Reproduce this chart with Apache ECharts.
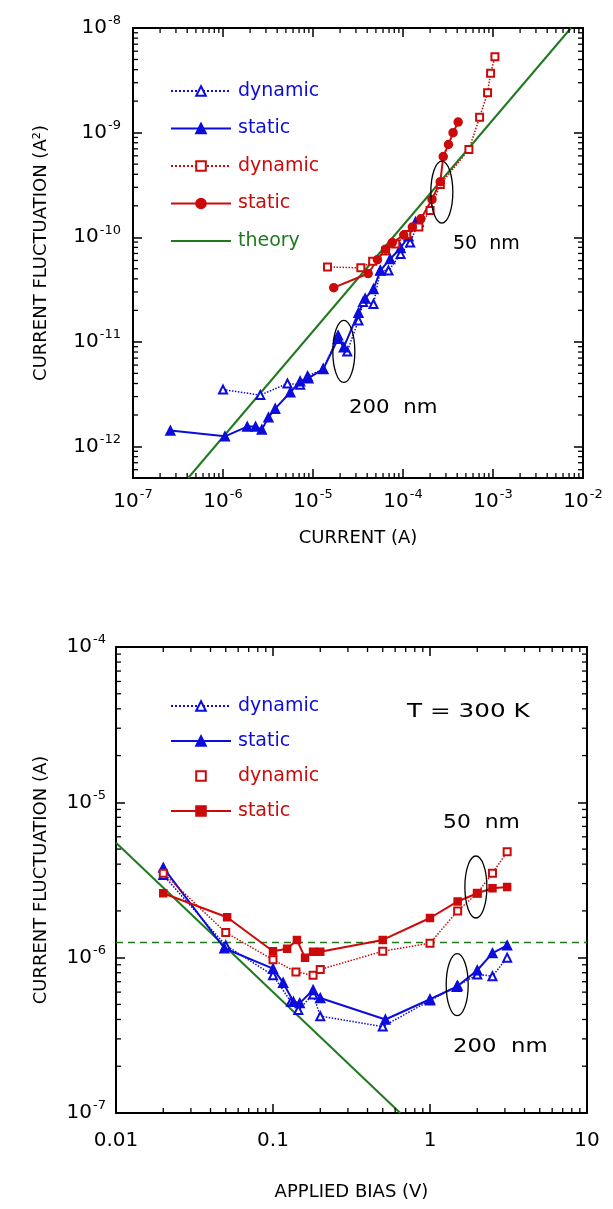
<!DOCTYPE html>
<html><head><meta charset="utf-8">
<script src="https://cdn.jsdelivr.net/npm/echarts@6/dist/echarts.min.js"></script>
<style>html,body{margin:0;padding:0;background:#fff}#c{width:613px;height:1209px}</style>
</head><body><div id="c"></div>
<script>
// ===== Top panel: CURRENT FLUCTUATION (A^2) vs CURRENT (A) =====
const topBlueDynI = [1.0e-6, 2.6e-6, 5.2e-6, 7.2e-6, 8.7e-6, 1.3e-5, 1.9e-5, 2.4e-5, 3.2e-5, 3.6e-5, 4.7e-5, 5.6e-5, 6.9e-5, 9.4e-5, 1.2e-4, 1.5e-4];
const topBlueDynS = [3.5e-12, 3.1e-12, 4.0e-12, 3.9e-12, 4.7e-12, 5.5e-12, 1.15e-11, 8.1e-12, 1.6e-11, 2.4e-11, 2.3e-11, 4.8e-11, 4.8e-11, 6.9e-11, 8.9e-11, 1.4e-10];
const topBlueStaI = [2.6e-7, 1.05e-6, 1.86e-6, 2.3e-6, 2.7e-6, 3.2e-6, 3.8e-6, 5.6e-6, 7.2e-6, 8.9e-6, 1.3e-5, 1.9e-5, 2.2e-5, 3.2e-5, 3.8e-5, 4.7e-5, 5.6e-5, 7.2e-5, 9.4e-5, 1.15e-4, 1.38e-4];
const topBlueStaS = [1.42e-12, 1.25e-12, 1.55e-12, 1.55e-12, 1.45e-12, 1.9e-12, 2.3e-12, 3.3e-12, 4.2e-12, 4.5e-12, 5.5e-12, 1.07e-11, 8.9e-12, 1.9e-11, 2.6e-11, 3.2e-11, 4.8e-11, 6.2e-11, 7.9e-11, 1.02e-10, 1.4e-10];
const topRedDynI = [1.45e-5, 3.4e-5, 4.6e-5, 6.4e-5, 8.3e-5, 1.1e-4, 1.5e-4, 2.0e-4, 2.6e-4, 5.4e-4, 7.1e-4, 8.7e-4, 9.4e-4, 1.05e-3];
const topRedDynS = [5.2e-11, 5.1e-11, 5.9e-11, 7.4e-11, 8.6e-11, 1.06e-10, 1.25e-10, 1.8e-10, 3.2e-10, 6.9e-10, 1.4e-9, 2.4e-9, 3.7e-9, 5.3e-9];
const topRedStaI = [1.7e-5, 4.1e-5, 5.2e-5, 6.4e-5, 7.6e-5, 1.02e-4, 1.27e-4, 1.58e-4, 2.1e-4, 2.6e-4, 2.8e-4, 3.2e-4, 3.6e-4, 4.1e-4];
const topRedStaS = [3.3e-11, 4.5e-11, 6.1e-11, 7.7e-11, 8.9e-11, 1.05e-10, 1.25e-10, 1.5e-10, 2.3e-10, 3.4e-10, 5.9e-10, 7.7e-10, 1.0e-9, 1.26e-9];
const topTheoryI = [4.1e-7, 7.35e-3];
const topTheoryS = [5.0e-13, 1.0e-8];
const topEllipseI = [2.7e-4, 2.2e-5];
const topEllipseS = [2.7e-10, 8.1e-12];
const topXRange = [1e-7, 1e-2];
const topYRange = [5e-13, 1e-8];

// ===== Bottom panel: CURRENT FLUCTUATION (A) vs APPLIED BIAS (V) =====
const botBlueDynV = [0.02, 0.05, 0.1, 0.13, 0.145, 0.18, 0.2, 0.5, 1.0, 1.5, 2.0, 2.5, 3.1];
const botBlueDynF = [3.4e-6, 1.2e-6, 7.7e-7, 5.2e-7, 4.6e-7, 5.8e-7, 4.2e-7, 3.6e-7, 5.3e-7, 6.6e-7, 7.8e-7, 7.6e-7, 1.0e-6];
const botBlueStaV = [0.02, 0.049, 0.1, 0.116, 0.135, 0.148, 0.18, 0.2, 0.52, 1.0, 1.48, 2.0, 2.5, 3.1];
const botBlueStaF = [3.8e-6, 1.15e-6, 8.5e-7, 6.9e-7, 5.2e-7, 5.1e-7, 6.2e-7, 5.5e-7, 4.0e-7, 5.4e-7, 6.5e-7, 8.3e-7, 1.07e-6, 1.2e-6];
const botRedDynV = [0.02, 0.05, 0.1, 0.14, 0.18, 0.2, 0.5, 1.0, 1.5, 2.0, 2.5, 3.1];
const botRedDynF = [3.5e-6, 1.45e-6, 9.7e-7, 8.1e-7, 7.7e-7, 8.4e-7, 1.1e-6, 1.24e-6, 2.0e-6, 2.6e-6, 3.5e-6, 4.8e-6];
const botRedStaV = [0.02, 0.051, 0.1, 0.123, 0.142, 0.16, 0.18, 0.2, 0.5, 1.0, 1.5, 2.0, 2.5, 3.1];
const botRedStaF = [2.6e-6, 1.82e-6, 1.1e-6, 1.14e-6, 1.3e-6, 1.0e-6, 1.09e-6, 1.09e-6, 1.3e-6, 1.8e-6, 2.3e-6, 2.6e-6, 2.8e-6, 2.85e-6];
const botTheoryV = [0.01, 0.646];
const botTheoryF = [5.5e-6, 1.0e-7];
const botLevelV = [0.01, 10];
const botLevelF = [1.25e-6, 1.25e-6];
const botEllipseV = [1.96, 1.49];
const botEllipseF = [2.85e-6, 6.7e-7];
const botXRange = [0.01, 10];
const botYRange = [1e-7, 1e-4];
const botXTickLabels = {'-2': '0.01', '-1': '0.1', '0': '1', '1': '10'};

const legendText = {
  tBD: 'dynamic', tBS: 'static', tRD: 'dynamic', tRS: 'static', tTh: 'theory',
  bBD: 'dynamic', bBS: 'static', bRD: 'dynamic', bRS: 'static'
};

const BLUE = '#0c0cdc', RED = '#cc0a0a', GREEN = '#1f7a1f';
const FONT = 'DejaVu Sans';
const zip = (a, b) => a.map((v, i) => [v, b[i]]);

function powLabel(v) {
  const l = Math.log10(v), e = Math.round(l);
  if (Math.abs(l - e) > 1e-6) return '';
  return '{b|10}{s|' + e + '}';
}
function botXLabel(v) {
  const l = Math.log10(v), e = Math.round(l);
  if (Math.abs(l - e) > 1e-6) return '';
  return botXTickLabels[String(e)] || '';
}
const rich = {
  b: {fontSize: 20, fontFamily: FONT, color: '#000'},
  s: {fontSize: 13, fontFamily: FONT, color: '#000', padding: [0, 0, 14, 1]}
};
function minorVals(lo, hi) {
  const out = [];
  for (let e = Math.floor(Math.log10(lo)); e < Math.ceil(Math.log10(hi)); e++) {
    for (let m = 2; m <= 9; m++) {
      const v = m * Math.pow(10, e);
      if (v > lo * 1.0001 && v < hi * 0.9999) out.push(v);
    }
  }
  return out;
}
const AX_LINE = {show: true, lineStyle: {color: '#000', width: 2}};
const AX_TICK = {show: true, inside: true, length: 9, lineStyle: {color: '#000', width: 1.5}};

function axis(gridIndex, position, range, opts) {
  return Object.assign({
    type: 'log', logBase: 10, gridIndex, position, min: range[0], max: range[1],
    axisLine: AX_LINE, axisTick: AX_TICK, splitLine: {show: false},
    axisLabel: {show: false}
  }, opts || {});
}

const xAxis = [
  axis(0, 'bottom', topXRange, {
    axisLabel: {show: true, margin: 10, formatter: powLabel, rich, showMinLabel: true, showMaxLabel: true},
    name: 'CURRENT (A)', nameLocation: 'middle', nameGap: 51,
    nameTextStyle: {fontFamily: FONT, fontSize: 18, color: '#000'}
  }),
  axis(0, 'top', topXRange),
  axis(1, 'bottom', botXRange, {
    axisLabel: {show: true, margin: 18, formatter: botXLabel, fontFamily: FONT, fontSize: 20, color: '#000', showMinLabel: true, showMaxLabel: true},
    name: 'APPLIED BIAS (V)', nameLocation: 'middle', nameGap: 70,
    nameTextStyle: {fontFamily: FONT, fontSize: 18, color: '#000'}
  }),
  axis(1, 'top', botXRange)
];
const yAxis = [
  axis(0, 'left', topYRange, {
    axisLabel: {show: true, margin: 12, formatter: powLabel, rich, showMinLabel: false, showMaxLabel: true},
    name: 'CURRENT FLUCTUATION (A\u00B2)', nameLocation: 'middle', nameGap: 83,
    nameTextStyle: {fontFamily: FONT, fontSize: 18, color: '#000'}
  }),
  axis(0, 'right', topYRange),
  axis(1, 'left', botYRange, {
    axisLabel: {show: true, margin: 10, formatter: powLabel, rich, showMinLabel: true, showMaxLabel: true},
    name: 'CURRENT FLUCTUATION (A)', nameLocation: 'middle', nameGap: 66,
    nameTextStyle: {fontFamily: FONT, fontSize: 18, color: '#000'}
  }),
  axis(1, 'right', botYRange)
];

function minorTickSeries(xi, yi, dir, xr, yr) {
  const vals = dir === 'x' ? minorVals(xr[0], xr[1]) : minorVals(yr[0], yr[1]);
  return {
    type: 'custom', xAxisIndex: xi, yAxisIndex: yi, silent: true, z: 5,
    data: vals.map(v => dir === 'x' ? [v, yr[0]] : [xr[0], v]),
    renderItem: (params, api) => {
      const v = dir === 'x' ? api.value(0) : api.value(1);
      const L = 5, st = {stroke: '#000', lineWidth: 1.3};
      if (dir === 'x') {
        const b = api.coord([v, yr[0]]), t = api.coord([v, yr[1]]);
        return {type: 'group', children: [
          {type: 'line', shape: {x1: b[0], y1: b[1], x2: b[0], y2: b[1] - L}, style: st},
          {type: 'line', shape: {x1: t[0], y1: t[1], x2: t[0], y2: t[1] + L}, style: st}
        ]};
      }
      const l = api.coord([xr[0], v]), r = api.coord([xr[1], v]);
      return {type: 'group', children: [
        {type: 'line', shape: {x1: l[0], y1: l[1], x2: l[0] + L, y2: l[1]}, style: st},
        {type: 'line', shape: {x1: r[0], y1: r[1], x2: r[0] - L, y2: r[1]}, style: st}
      ]};
    }
  };
}
function ellipseSeries(xi, yi, xs, ys) {
  return {
    type: 'custom', xAxisIndex: xi, yAxisIndex: yi, silent: true, z: 6,
    data: zip(xs, ys),
    renderItem: (params, api) => {
      const c = api.coord([api.value(0), api.value(1)]);
      return {type: 'ellipse', shape: {cx: c[0], cy: c[1], rx: 11, ry: 31},
        style: {fill: 'none', stroke: '#000', lineWidth: 1.3}};
    }
  };
}
function lineSeries(name, xi, yi, data, color, dashed, symbol, size) {
  return {
    name, type: 'line', xAxisIndex: xi, yAxisIndex: yi, data,
    symbol, symbolSize: size, showSymbol: true, silent: true, z: 3,
    lineStyle: {color, width: dashed ? 1.5 : 2, type: dashed ? 'dotted' : 'solid'},
    itemStyle: {color, borderColor: color, borderWidth: 1.5}
  };
}

const series = [
  {name: 'tTh', type: 'line', xAxisIndex: 0, yAxisIndex: 0, data: zip(topTheoryI, topTheoryS),
   symbol: 'none', silent: true, z: 2, lineStyle: {color: GREEN, width: 2}, itemStyle: {color: GREEN}},
  lineSeries('tBD', 0, 0, zip(topBlueDynI, topBlueDynS), BLUE, true, 'emptyTriangle', 8),
  lineSeries('tBS', 0, 0, zip(topBlueStaI, topBlueStaS), BLUE, false, 'triangle', 9),
  lineSeries('tRD', 0, 0, zip(topRedDynI, topRedDynS), RED, true, 'emptyRect', 7),
  lineSeries('tRS', 0, 0, zip(topRedStaI, topRedStaS), RED, false, 'circle', 8),
  minorTickSeries(0, 0, 'x', topXRange, topYRange),
  minorTickSeries(0, 0, 'y', topXRange, topYRange),
  ellipseSeries(0, 0, topEllipseI, topEllipseS),

  {type: 'line', xAxisIndex: 2, yAxisIndex: 2, data: zip(botTheoryV, botTheoryF),
   symbol: 'none', silent: true, z: 2, lineStyle: {color: GREEN, width: 2}},
  {type: 'line', xAxisIndex: 2, yAxisIndex: 2, data: zip(botLevelV, botLevelF),
   symbol: 'none', silent: true, z: 2, lineStyle: {color: GREEN, width: 1.5, type: [7, 5]}},
  lineSeries('bBD', 2, 2, zip(botBlueDynV, botBlueDynF), BLUE, true, 'emptyTriangle', 8),
  lineSeries('bBS', 2, 2, zip(botBlueStaV, botBlueStaF), BLUE, false, 'triangle', 9),
  lineSeries('bRD', 2, 2, zip(botRedDynV, botRedDynF), RED, true, 'emptyRect', 7),
  lineSeries('bRS', 2, 2, zip(botRedStaV, botRedStaF), RED, false, 'rect', 7),
  minorTickSeries(2, 2, 'x', botXRange, botYRange),
  minorTickSeries(2, 2, 'y', botXRange, botYRange),
  ellipseSeries(2, 2, botEllipseV, botEllipseF)
];

const legendBase = {
  orient: 'vertical', left: 165, itemWidth: 60, itemHeight: 12, selectedMode: false,
  formatter: n => legendText[n],
  textStyle: {fontFamily: FONT, fontSize: 19, lineHeight: 20, padding: [0, 0, 0, 2]}
};
const legend = [
  Object.assign({}, legendBase, {top: 76, itemGap: 17.5, data: [
    {name: 'tBD', textStyle: {color: BLUE}},
    {name: 'tBS', textStyle: {color: BLUE}},
    {name: 'tRD', textStyle: {color: RED}},
    {name: 'tRS', textStyle: {color: RED}},
    {name: 'tTh', textStyle: {color: GREEN}, itemStyle: {opacity: 0}}
  ]}),
  Object.assign({}, legendBase, {top: 691, itemGap: 15, data: [
    {name: 'bBD', textStyle: {color: BLUE}},
    {name: 'bBS', textStyle: {color: BLUE}},
    {name: 'bRD', textStyle: {color: RED}, lineStyle: {opacity: 0}},
    {name: 'bRS', textStyle: {color: RED}}
  ]})
];

const txt = (x, y, s, sx) => ({type: 'text', x, y, scaleX: sx || 1, silent: true,
  style: {text: s, font: '19px "' + FONT + '"', fill: '#000', align: 'left', verticalAlign: 'middle'}});
const graphic = [
  txt(453, 244, '50  nm'),
  txt(349, 408, '200  nm', 1.12),
  txt(407, 712, 'T = 300 K', 1.3),
  txt(443, 823, '50  nm', 1.15),
  txt(453, 1047, '200  nm', 1.2)
];

const chart = echarts.init(document.getElementById('c'), null, {renderer: 'canvas'});
chart.setOption({
  animation: false,
  backgroundColor: '#fff',
  grid: [
    {left: 133, top: 28, width: 450, height: 450},
    {left: 116, top: 647, width: 471, height: 466}
  ],
  xAxis, yAxis, series, legend, graphic
});
</script></body></html>
